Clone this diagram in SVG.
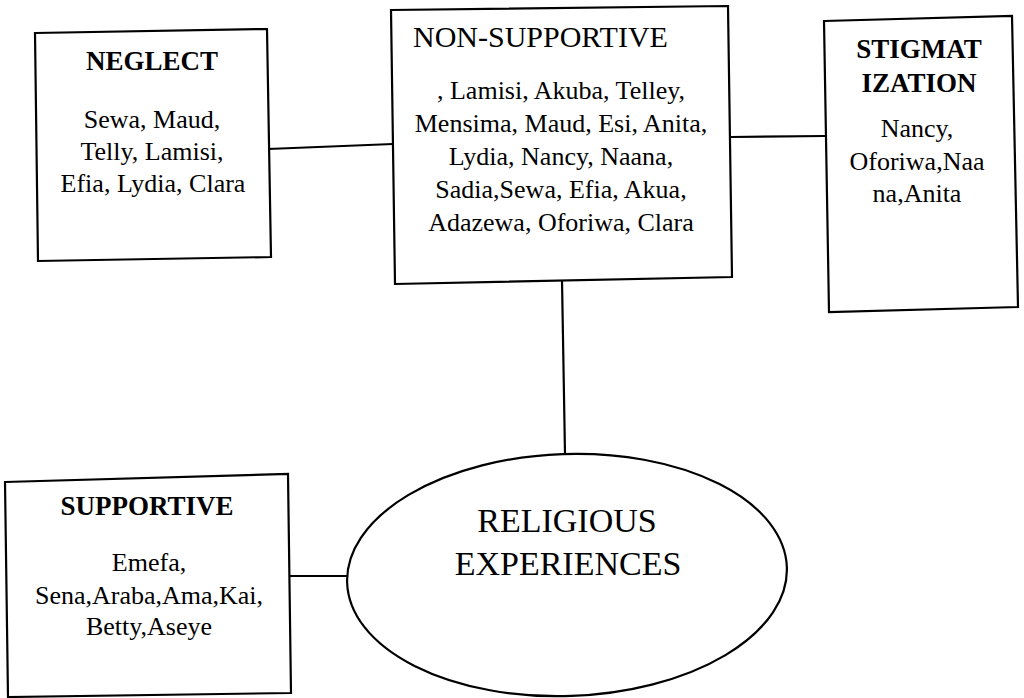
<svg xmlns="http://www.w3.org/2000/svg" width="1024" height="698" viewBox="0 0 1024 698">
<style>
.box{fill:#fff;stroke:#000;stroke-width:2.2}
.con{stroke:#000;stroke-width:2.2;fill:none}
.t{font-family:"Liberation Serif","Times New Roman",serif;fill:#000;text-anchor:middle}
.b{font-size:26px}
.h{font-size:27px;font-weight:bold}
</style>
<rect width="1024" height="698" fill="#fff"/>
<g id="connectors">
<line class="con" x1="268" y1="149" x2="393" y2="144"/>
<line class="con" x1="731" y1="137" x2="825" y2="136"/>
<line class="con" x1="562" y1="280" x2="565" y2="454"/>
<line class="con" x1="290" y1="576" x2="348" y2="576"/>
</g>
<g id="neglect">
<path class="box" d="M35 33 L267 29 L271 257 L38 261 Z"/>
<text class="t h" x="152" y="70">NEGLECT</text>
<text class="t b" x="152" y="128">Sewa, Maud,</text>
<text class="t b" x="152" y="160">Telly, Lamisi,</text>
<text class="t b" x="153" y="192">Efia, Lydia, Clara</text>
</g>
<g id="non-supportive">
<path class="box" d="M391 10 L728 6 L732 277 L395 284 Z"/>
<text class="t" x="413" y="47" style="font-size:30px;text-anchor:start">NON-SUPPORTIVE</text>
<text class="t b" x="561" y="99">, Lamisi, Akuba, Telley,</text>
<text class="t b" x="561" y="132">Mensima, Maud, Esi, Anita,</text>
<text class="t b" x="561" y="165">Lydia, Nancy, Naana,</text>
<text class="t b" x="561" y="198">Sadia,Sewa, Efia, Akua,</text>
<text class="t b" x="561" y="231">Adazewa, Oforiwa, Clara</text>
</g>
<g id="stigmatization">
<path class="box" d="M824 21 L1012 16 L1018 307 L829 312 Z"/>
<text class="t h" x="919" y="58">STIGMAT</text>
<text class="t h" x="919" y="92">IZATION</text>
<text class="t b" x="917" y="137">Nancy,</text>
<text class="t b" x="917" y="170">Oforiwa,Naa</text>
<text class="t b" x="917" y="202">na,Anita</text>
</g>
<g id="supportive">
<path class="box" d="M5 482 L288 474 L291 693 L8 697 Z"/>
<text class="t h" x="147" y="515">SUPPORTIVE</text>
<text class="t b" x="149" y="571">Emefa,</text>
<text class="t b" x="149" y="604">Sena,Araba,Ama,Kai,</text>
<text class="t b" x="149" y="635">Betty,Aseye</text>
</g>
<g id="religious-experiences">
<ellipse class="box" cx="567" cy="575" rx="220" ry="121" transform="rotate(-2 567 575)"/>
<text class="t" x="567" y="532" style="font-size:34px">RELIGIOUS</text>
<text class="t" x="568" y="575" style="font-size:34px">EXPERIENCES</text>
</g>
</svg>
